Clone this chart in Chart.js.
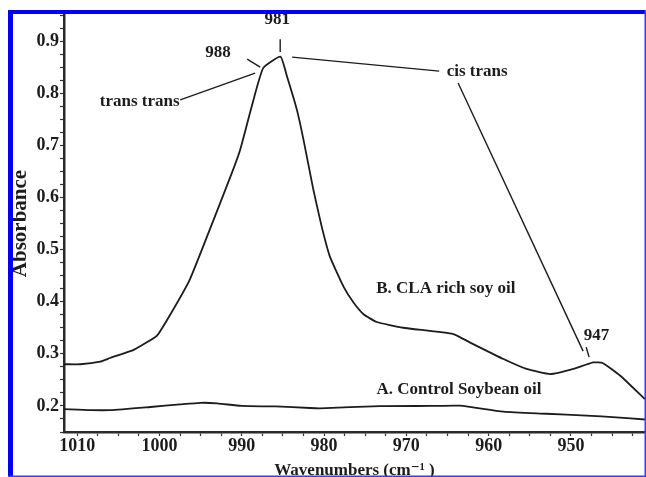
<!DOCTYPE html>
<html>
<head>
<meta charset="utf-8">
<script src="https://cdn.jsdelivr.net/npm/chart.js@4/dist/chart.umd.min.js"></script>
<style>
  html, body { margin: 0; padding: 0; background: #fff; }
  #wrap { width: 646px; height: 477px; }
</style>
</head>
<body>
<div id="wrap"><canvas id="spectrum" width="646" height="477"></canvas></div>
<script>
// B. CLA rich soy oil
const claWavenumbers = [1011.6, 1009.6, 1007.2, 1006.0, 1003.2, 1002.3, 1000.3, 998.7, 996.3, 993.4, 991.2,
    990.2, 988.8, 987.4, 985.3, 984.5, 983.3, 982.5, 981.3, 980.3, 979.3, 977.6, 976.4, 975.2, 973.6,
    970.4, 964.3, 962.3, 958.2, 955.4, 952.5, 949.7, 947.3, 946.1, 944.0, 941.0];
const claAbsorbance = [0.280, 0.280, 0.285, 0.292, 0.307, 0.315, 0.335, 0.375, 0.443, 0.558, 0.647,
    0.691, 0.774, 0.848, 0.870, 0.832, 0.768, 0.711, 0.615, 0.545, 0.487, 0.428, 0.398, 0.376, 0.361,
    0.350, 0.338, 0.322, 0.290, 0.271, 0.261, 0.271, 0.2835, 0.282, 0.258, 0.213];

// A. Control Soybean oil
const controlWavenumbers = [1011.6, 1008.4, 1006.0, 1001.1, 997.5, 995.0, 993.0, 990.0, 985.9, 981.7,
    980.5, 973.2, 967.0, 963.5, 958.2, 953.0, 948.1, 944.5, 941.0];
const controlAbsorbance = [0.194, 0.192, 0.192, 0.198, 0.203, 0.206, 0.205, 0.200, 0.199, 0.196,
    0.1955, 0.1995, 0.200, 0.2005, 0.189, 0.185, 0.1815, 0.178, 0.174];

// axis range and labelled ticks
const xMin = 941.0, xMax = 1011.6;
const yMin = 0.15, yMax = 0.95;
const xLabelEvery = 10;
const yLabelEvery = 0.1;

// annotation texts (position in wavenumber / absorbance)
const noteTexts = ["981", "988", "trans trans", "cis trans", "947", "B. CLA rich soy oil", "A. Control Soybean oil"];
const noteX = [985.7, 992.9, 1002.4, 961.4, 946.9, 965.2, 963.6];
const noteY = [0.942, 0.877, 0.783, 0.8405, 0.334, 0.4256, 0.2306];

// leader lines [x1, y1, x2, y2]
const leaders = [
    [985.33, 0.9036, 985.33, 0.8788],
    [989.34, 0.8654, 987.76, 0.850],
    [997.48, 0.787, 988.37, 0.8386],
    [983.88, 0.8692, 966.01, 0.8424],
    [963.71, 0.8195, 948.52, 0.3052],
    [948.15, 0.3128, 947.79, 0.2937],
];

const toPoints = (xs, ys) => xs.map((x, i) => ({ x: x, y: ys[i] }));
const serif = "'Liberation Serif', 'DejaVu Serif', serif";
const ink = "#1c1c1c";

const annotations = {
    id: "annotations",
    afterDatasetsDraw(chart) {
        const ctx = chart.ctx;
        const xs = chart.scales.x;
        const ys = chart.scales.y;
        ctx.save();
        ctx.strokeStyle = ink;
        ctx.lineWidth = 1.4;
        leaders.forEach((l) => {
            ctx.beginPath();
            ctx.moveTo(xs.getPixelForValue(l[0]), ys.getPixelForValue(l[1]));
            ctx.lineTo(xs.getPixelForValue(l[2]), ys.getPixelForValue(l[3]));
            ctx.stroke();
        });
        ctx.fillStyle = ink;
        ctx.font = "bold 17px " + serif;
        ctx.textAlign = "center";
        ctx.textBaseline = "middle";
        noteTexts.forEach((t, i) => {
            ctx.fillText(t, xs.getPixelForValue(noteX[i]), ys.getPixelForValue(noteY[i]));
        });
        ctx.restore();
    },
};

// blue frame round the scanned figure
const frame = {
    id: "frame",
    afterDraw(chart) {
        const ctx = chart.ctx;
        ctx.save();
        ctx.fillStyle = "#0000f0";
        ctx.fillRect(8, 10, 5, 467);
        ctx.fillRect(8, 10, 638, 4);
        ctx.fillStyle = "#3a3af5";
        ctx.fillRect(644.5, 10, 1.5, 467);
        ctx.fillRect(8, 475.5, 638, 1.5);
        ctx.restore();
    },
};

const chartSpectrum = new Chart(document.getElementById("spectrum"), {
    type: "line",
    data: {
        datasets: [
            {
                label: "B. CLA rich soy oil",
                data: toPoints(claWavenumbers, claAbsorbance),
                borderColor: ink,
                borderWidth: 1.8,
                pointRadius: 0,
                tension: 0.15,
            },
            {
                label: "A. Control Soybean oil",
                data: toPoints(controlWavenumbers, controlAbsorbance),
                borderColor: ink,
                borderWidth: 1.8,
                pointRadius: 0,
                tension: 0.2,
            },
        ],
    },
    options: {
        responsive: false,
        animation: false,
        layout: { padding: { top: 15, right: 1, left: 0, bottom: 0 } },
        plugins: {
            legend: { display: false },
            tooltip: { enabled: false },
        },
        scales: {
            x: {
                type: "linear",
                reverse: true,
                min: xMin,
                max: xMax,
                afterFit: (s) => { s.height = 45; },
                border: { color: "#2a2a2a", width: 2.5 },
                grid: { drawOnChartArea: false, tickLength: 4, tickColor: "#333", tickWidth: 1.2 },
                ticks: {
                    stepSize: 2.5,
                    includeBounds: false,
                    autoSkip: false,
                    maxRotation: 0,
                    minRotation: 0,
                    padding: 0,
                    color: ink,
                    font: { family: serif, size: 18, weight: "bold" },
                    callback: (v) => (Math.abs(v / xLabelEvery - Math.round(v / xLabelEvery)) < 1e-6 ? String(Math.round(v)) : ""),
                },
                title: {
                    display: true,
                    text: "Wavenumbers (cm\u207B\u00B9 )",
                    color: ink,
                    padding: { top: 0, bottom: 0 },
                    font: { family: serif, size: 17, weight: "bold", lineHeight: 0.8 },
                },
            },
            y: {
                type: "linear",
                min: yMin,
                max: yMax,
                afterFit: (s) => { s.width = 64; },
                border: { color: "#2a2a2a", width: 2.5 },
                grid: { drawOnChartArea: false, tickLength: 4, tickColor: "#333", tickWidth: 1.2 },
                ticks: {
                    stepSize: 0.025,
                    includeBounds: false,
                    autoSkip: false,
                    padding: 1,
                    color: ink,
                    font: { family: serif, size: 18, weight: "bold" },
                    callback: (v) => (Math.abs(v / yLabelEvery - Math.round(v / yLabelEvery)) < 1e-6 ? v.toFixed(1) : ""),
                },
                title: {
                    display: true,
                    text: "Absorbance",
                    color: ink,
                    padding: { top: 10, bottom: 0 },
                    font: { family: serif, size: 21, weight: "bold", lineHeight: 1 },
                },
            },
        },
    },
    plugins: [annotations, frame],
});
</script>
</body>
</html>
